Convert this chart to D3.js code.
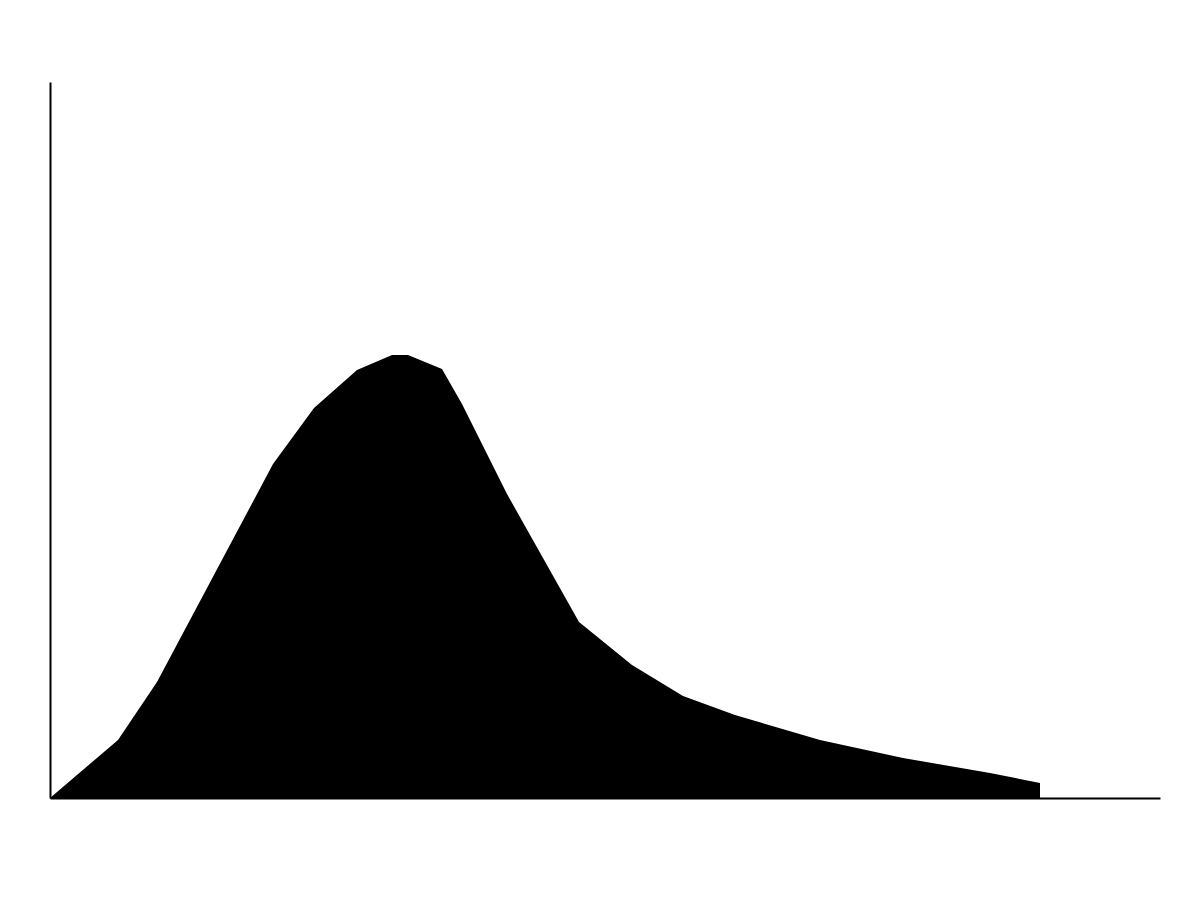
<!DOCTYPE html>
<meta charset="utf-8">
<style>
  body { margin: 0; background: #fff; }
</style>
<body>
<script src="https://d3js.org/d3.v7.min.js"></script>
<script>

var width = 1198,
    height = 898,
    margin = {top: 82, right: 38, bottom: 100, left: 50};

// density curve
var xs = [0, 68, 107, 223, 264, 307, 342, 358, 392, 412, 457, 529, 582, 633, 685, 770, 853, 940, 990, 990];
var ys = [0, 58, 116, 334, 390, 428, 443, 443, 429, 394, 304, 176, 133, 102, 83, 58, 40, 25, 15, 0];

var data = xs.map(function(x, i) { return {x: x, y: ys[i]}; });

var x = d3.scaleLinear()
    .domain([0, 1110])
    .range([margin.left, width - margin.right]);

var y = d3.scaleLinear()
    .domain([0, 716])
    .range([height - margin.bottom, margin.top]);

var svg = d3.select("body").append("svg")
    .attr("width", width)
    .attr("height", height);

var area = d3.area()
    .x(d => x(d.x))
    .y0(y(0))
    .y1(d => y(d.y));

svg.append("path")
    .datum(data)
    .attr("fill", "#000")
    .attr("d", area);

var xAxis = svg.append("g")
    .attr("transform", "translate(0," + y(0) + ")")
    .call(d3.axisBottom(x).ticks(0).tickSizeOuter(0));

var yAxis = svg.append("g")
    .attr("transform", "translate(" + x(0) + ",0)")
    .call(d3.axisLeft(y).ticks(0).tickSizeOuter(0));

svg.selectAll(".domain")
    .attr("stroke", "#000")
    .attr("stroke-width", 2);

</script>
